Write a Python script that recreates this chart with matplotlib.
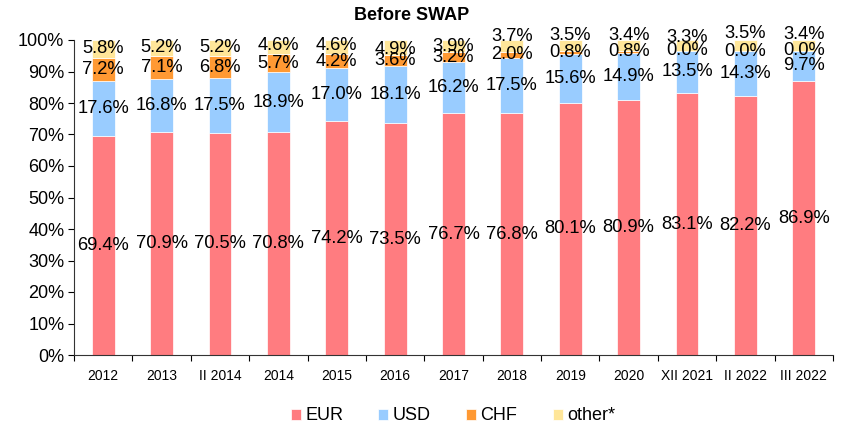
import matplotlib
matplotlib.use("Agg")
import matplotlib.pyplot as plt
import numpy as np
from matplotlib.ticker import PercentFormatter

plt.rcParams['font.family'] = ['Liberation Sans', 'DejaVu Sans']

categories = ["2012", "2013", "II 2014", "2014", "2015", "2016", "2017", "2018",
              "2019", "2020", "XII 2021", "II 2022", "III 2022"]
eur = [69.4, 70.9, 70.5, 70.8, 74.2, 73.5, 76.7, 76.8, 80.1, 80.9, 83.1, 82.2, 86.9]
usd = [17.6, 16.8, 17.5, 18.9, 17.0, 18.1, 16.2, 17.5, 15.6, 14.9, 13.5, 14.3, 9.7]
chf = [7.2, 7.1, 6.8, 5.7, 4.2, 3.6, 3.2, 2.0, 0.8, 0.8, 0.0, 0.0, 0.0]
other = [5.8, 5.2, 5.2, 4.6, 4.6, 4.9, 3.9, 3.7, 3.5, 3.4, 3.3, 3.5, 3.4]

series = [("EUR", eur, "#FF7C80"), ("USD", usd, "#99CCFF"),
          ("CHF", chf, "#FF9933"), ("other*", other, "#FFE699")]

# vertical nudge (points) of the topmost labels so they stay readable
other_label_shift = [0.7, 0.7, 0.7, 1.4, 1.4, -1.4, 0, 6.5, 7.5, 7.2, 5.8, 8.6, 7.5]

fig = plt.figure(figsize=(8.46, 4.25), dpi=100)
ax = fig.add_axes([74 / 846, 70 / 425, 759 / 846, 315 / 425])

x = np.arange(len(categories))
bottom = np.zeros(len(categories))
handles = []
for name, vals, color in series:
    v = np.array(vals) / 100.0
    bars = ax.bar(x, v, width=0.39, bottom=bottom, color=color,
                  edgecolor="white", linewidth=0.5, label=name)
    handles.append(bars)
    for i, (xi, b, h) in enumerate(zip(x, bottom, v)):
        dy = other_label_shift[i] if name == "other*" else 0
        ax.annotate(f"{h*100:.1f}%", (xi, b + h / 2), xytext=(0, dy),
                    textcoords="offset points", ha="center", va="center",
                    fontsize=13.2, color="black", annotation_clip=False)
    bottom = bottom + v

ax.set_xlim(-0.5, len(categories) - 0.5)
ax.set_ylim(0, 1.0)
ax.set_yticks(np.arange(0, 1.01, 0.1))
ax.yaxis.set_major_formatter(PercentFormatter(1.0, decimals=0))
ax.tick_params(axis="y", labelsize=13, direction="out", length=4, width=0.8, pad=3)

ax.set_xticks(x)
ax.set_xticklabels(categories, fontsize=10)
ax.tick_params(axis="x", length=0, pad=10)
ax.set_xticks(np.arange(-0.5, len(categories), 1), minor=True)
ax.tick_params(axis="x", which="minor", direction="out", length=4, width=0.8)

for s in ["top", "right"]:
    ax.spines[s].set_visible(False)
ax.spines["left"].set_color("#333333")
ax.spines["bottom"].set_color("#333333")

fig.text(412 / 846, 1 - 15 / 425, "Before SWAP", fontsize=13, fontweight="bold",
         ha="center", va="center")

fig.legend(handles=handles, labels=[s[0] for s in series], loc="center",
           bbox_to_anchor=(453 / 846, 1 - 416 / 425), ncol=4, frameon=False,
           fontsize=13, handlelength=0.55, handleheight=0.55, handletextpad=0.25,
           columnspacing=1.95, borderpad=0)

fig.savefig("out.png", dpi=100)
